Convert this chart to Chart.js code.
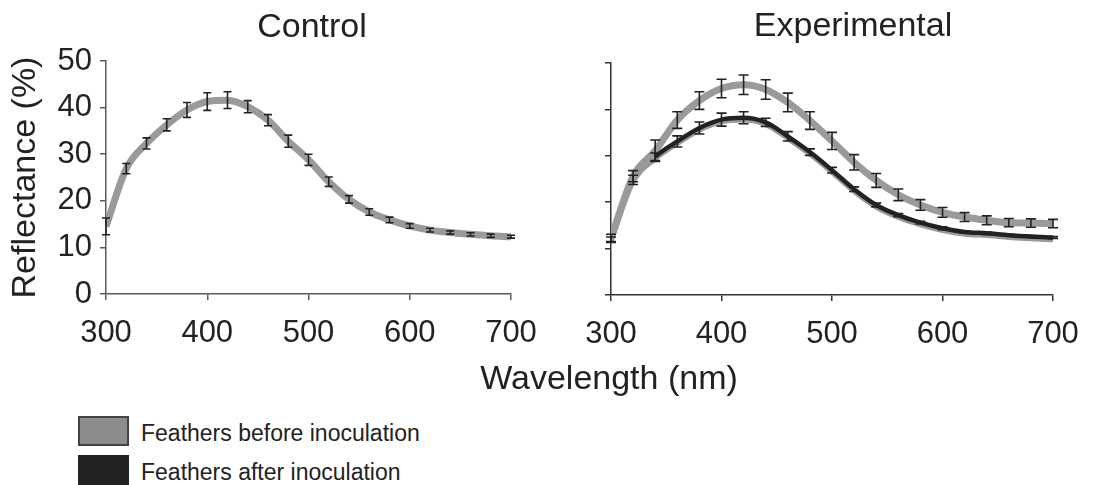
<!DOCTYPE html>
<html>
<head>
<meta charset="utf-8">
<script src="https://cdn.jsdelivr.net/npm/chart.js@4.4.1/dist/chart.umd.min.js"></script>
<style>
  html, body { margin: 0; padding: 0; background: #fff; }
  #wrap { position: relative; width: 1115px; height: 485px; overflow: hidden;
          font-family: "Liberation Sans", Arial, sans-serif; color: #222; }
  canvas { position: absolute; top: 0; }
  #c1 { left: 0; }
  #c2 { left: 560px; }
  .t { position: absolute; white-space: nowrap; line-height: 1; }
  .c { transform: translateX(-50%); }
  .box { position: absolute; box-sizing: border-box; }
</style>
</head>
<body>
<div id="wrap">
  <canvas id="c1" width="560" height="380"></canvas>
  <canvas id="c2" width="555" height="380"></canvas>
  <div id="title1" class="t c" style="left:312px; top:8px; font-size:34px;"></div>
  <div id="title2" class="t c" style="left:853px; top:7px; font-size:34px;"></div>
  <div id="xtitle" class="t c" style="left:609px; top:360px; font-size:34px;"></div>
  <div id="legend"></div>
</div>
<script>
// ---------------- data ----------------
const panelTitles = ['Control', 'Experimental'];
const xAxisTitle = 'Wavelength (nm)';
const yAxisTitle = 'Reflectance (%)';
const seriesLabels = ['Feathers before inoculation', 'Feathers after inoculation'];

const wavelengths = [300, 320, 340, 360, 380, 400, 420, 440, 460, 480, 500,
                     520, 540, 560, 580, 600, 620, 640, 660, 680, 700];

const controlBefore    = [14.5, 26.9, 32.3, 36.3, 39.5, 41.3, 41.6, 40.2, 37.3, 32.8, 28.8,
                          24.1, 20.3, 17.6, 15.9, 14.6, 13.7, 13.2, 12.8, 12.5, 12.3];
const controlBeforeErr = [1.8, 1.1, 1.2, 1.3, 1.6, 1.9, 1.8, 1.3, 1.2, 1.3, 1.2,
                          1.0, 0.8, 0.7, 0.6, 0.5, 0.4, 0.35, 0.35, 0.35, 0.3];

const expBefore    = [12.3, 25.6, 31.1, 37.7, 41.9, 44.5, 45.3, 44.3, 41.5, 37.6, 33.2,
                      28.6, 24.7, 21.6, 19.4, 17.8, 16.8, 16.1, 15.6, 15.5, 15.4];
const expBeforeErr = [0.8, 1.2, 2.3, 1.8, 1.9, 2.0, 2.1, 2.1, 2.0, 1.9, 1.85,
                      1.65, 1.5, 1.25, 1.15, 1.05, 0.95, 0.95, 0.9, 0.9, 0.9];

const expAfter    = [11.9, 24.8, 29.8, 33.1, 36.0, 37.8, 38.2, 37.2, 34.2, 30.8, 26.9,
                     22.8, 19.4, 17.2, 15.6, 14.4, 13.6, 13.3, 12.9, 12.6, 12.4];
const expAfterErr = [0.6, 1.0, 0.8, 1.2, 1.3, 1.4, 1.3, 0.9, 1.0, 0.7, 0.6,
                     0.5, 0.4, 0.35, 0.3, 0.3, 0.25, 0.25, 0.2, 0.2, 0.2];

const xTicks = { min: 300, max: 700, step: 100 };
const yTicks = { min: 0, max: 50, step: 10 };

// ---------------- styles ----------------
const GRAY = '#9a9a9a';
const BLACK = '#222222';
const TEXT = '#222222';
Chart.defaults.font.family = '"Liberation Sans", Arial, sans-serif';
Chart.defaults.color = TEXT;

const toXY = (xs, ys) => xs.map((x, i) => ({ x: x, y: ys[i] }));

// error bars drawn through the chart's scales
const errorBarPlugin = {
  id: 'errorBars',
  afterDatasetsDraw(chart, args, opts) {
    const { ctx } = chart;
    const xs = chart.scales.x, ys = chart.scales.y;
    chart.data.datasets.forEach((ds, i) => {
      if (!ds.errors || !chart.isDatasetVisible(i)) return;
      ctx.save();
      ctx.strokeStyle = opts.color || '#222';
      ctx.lineWidth = opts.lineWidth || 1.5;
      const hw = (opts.capWidth || 8) / 2;
      ds.data.forEach((pt, j) => {
        const e = ds.errors[j];
        if (e == null || pt.y == null) return;
        const px = xs.getPixelForValue(pt.x);
        const y1 = ys.getPixelForValue(pt.y - e);
        const y2 = ys.getPixelForValue(pt.y + e);
        ctx.beginPath();
        ctx.moveTo(px, y1); ctx.lineTo(px, y2);
        ctx.moveTo(px - hw, y1); ctx.lineTo(px + hw, y1);
        ctx.moveTo(px - hw, y2); ctx.lineTo(px + hw, y2);
        ctx.stroke();
      });
      ctx.restore();
    });
  }
};

// gray under-shadow for a line
const shadowPlugin = {
  id: 'lineShadow',
  beforeDatasetDraw(chart, args) {
    const ds = chart.data.datasets[args.index];
    if (!ds.shadowColor) return;
    const ctx = chart.ctx;
    ctx.save();
    ctx.shadowColor = ds.shadowColor;
    ctx.shadowOffsetX = 0;
    ctx.shadowOffsetY = ds.shadowOffsetY || 3;
    ctx.shadowBlur = 0;
  },
  afterDatasetDraw(chart, args) {
    const ds = chart.data.datasets[args.index];
    if (!ds.shadowColor) return;
    chart.ctx.restore();
  }
};

function makeOptions(cfg) {
  return {
    responsive: false,
    animation: false,
    events: [],
    layout: { padding: cfg.padding },
    plugins: {
      legend: { display: false },
      tooltip: { enabled: false },
      title: { display: false },
      errorBars: { color: '#222', lineWidth: 1.6, capWidth: cfg.capWidth }
    },
    scales: {
      x: {
        type: 'linear',
        min: xTicks.min, max: xTicks.max,
        afterFit: s => { s.height = 60; },
        ticks: { stepSize: xTicks.step, font: { size: 31 }, color: TEXT, padding: 15,
                 maxRotation: 0, autoSkip: false },
        grid: { drawOnChartArea: false, drawTicks: true, tickLength: 6,
                color: cfg.axisColor, lineWidth: 1.5 },
        border: { display: true, color: cfg.axisColor, width: 1.5 }
      },
      y: {
        type: 'linear',
        min: yTicks.min, max: yTicks.max,
        afterFit: s => { s.width = cfg.yWidth; },
        ticks: { stepSize: yTicks.step, font: { size: 31 }, color: TEXT, padding: 8,
                 display: cfg.showYLabels },
        grid: { drawOnChartArea: false, drawTicks: true, tickLength: 6,
                color: cfg.axisColor, lineWidth: 1.5 },
        border: { display: true, color: cfg.axisColor, width: 1.5 },
        title: { display: cfg.showYTitle, text: yAxisTitle, font: { size: 34 },
                 color: TEXT, padding: { top: 5, bottom: 0 } }
      }
    }
  };
}

// ---------- Control panel ----------
new Chart(document.getElementById('c1'), {
  type: 'line',
  data: {
    datasets: [{
      label: seriesLabels[0],
      data: toXY(wavelengths, controlBefore),
      errors: controlBeforeErr,
      borderColor: GRAY, borderWidth: 7,
      pointRadius: 0, fill: false,
      cubicInterpolationMode: 'monotone'
    }]
  },
  options: makeOptions({ padding: { left: 0, right: 49, top: 61, bottom: 26 },
                         yWidth: 106, axisColor: '#5a5a5a', capWidth: 8,
                         showYLabels: true, showYTitle: true }),
  plugins: [shadowPlugin, errorBarPlugin]
});

// ---------- Experimental panel ----------
const blackStartNm = 335;
new Chart(document.getElementById('c2'), {
  type: 'line',
  data: {
    datasets: [{
      label: seriesLabels[0],
      data: toXY(wavelengths, expBefore),
      errors: expBeforeErr,
      borderColor: GRAY, borderWidth: 7,
      pointRadius: 0, fill: false,
      cubicInterpolationMode: 'monotone',
      order: 1
    }, {
      label: seriesLabels[1],
      data: toXY(wavelengths, expAfter),
      errors: expAfterErr,
      borderColor: BLACK, borderWidth: 4.5,
      shadowColor: GRAY, shadowOffsetY: 2.5,
      segment: { borderColor: c => (c.p0.parsed.x < blackStartNm ? GRAY : undefined) },
      pointRadius: 0, fill: false,
      cubicInterpolationMode: 'monotone',
      order: 0
    }]
  },
  options: makeOptions({ padding: { left: 0, right: 62, top: 63, bottom: 25 },
                         yWidth: 51, axisColor: '#333333', capWidth: 10,
                         showYLabels: false, showYTitle: false }),
  plugins: [shadowPlugin, errorBarPlugin]
});

// ---------- text & legend ----------
document.getElementById('title1').textContent = panelTitles[0];
document.getElementById('title2').textContent = panelTitles[1];
document.getElementById('xtitle').textContent = xAxisTitle;

const legendItems = [
  { label: seriesLabels[0], fill: '#8c8c8c', border: '2px solid #444', boxTop: 416, textTop: 422 },
  { label: seriesLabels[1], fill: '#222222', border: 'none', boxTop: 455, textTop: 461 }
];
const lg = document.getElementById('legend');
legendItems.forEach(it => {
  const b = document.createElement('div');
  b.className = 'box';
  b.style.cssText = `left:78px;top:${it.boxTop}px;width:51px;height:30px;background:${it.fill};border:${it.border};`;
  lg.appendChild(b);
  const t = document.createElement('div');
  t.className = 't';
  t.style.cssText = `left:141px;top:${it.textTop}px;font-size:23px;`;
  t.textContent = it.label;
  lg.appendChild(t);
});
</script>
</body>
</html>
